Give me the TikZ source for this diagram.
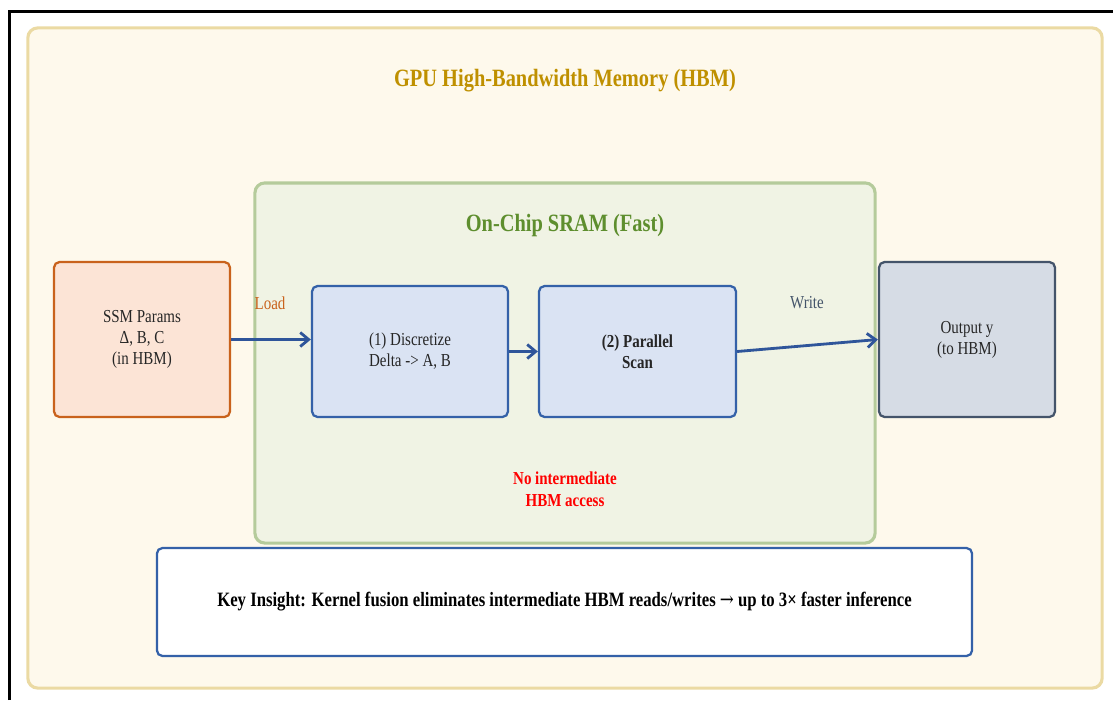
\documentclass[tikz,border=0pt]{standalone}
\usepackage{fontspec}
\setmainfont{Liberation Serif}[FakeStretch=0.82]
\usepackage{xcolor}
\usetikzlibrary{positioning, arrows.meta, calc}

\definecolor{hbmfill}{HTML}{FEF9EC}
\definecolor{hbmline}{HTML}{EBDAA3}
\definecolor{hbmtext}{HTML}{BF9000}
\definecolor{sramfill}{HTML}{F0F3E4}
\definecolor{sramline}{HTML}{B5CB9B}
\definecolor{sramtext}{HTML}{5E8E2E}
\definecolor{paramfill}{HTML}{FCE4D6}
\definecolor{paramline}{HTML}{C9621C}
\definecolor{procfill}{HTML}{DAE3F3}
\definecolor{procline}{HTML}{3461A8}
\definecolor{outfill}{HTML}{D6DCE5}
\definecolor{outline}{HTML}{44546A}
\definecolor{flowblue}{HTML}{2F559A}

\tikzset{
  every picture/.append style={thick},
  region/.style={draw, rounded corners=7pt, line width=2.2pt},
  unit/.style={draw, rounded corners=4pt, line width=1.6pt, align=center,
    font=\fontsize{13}{15}\selectfont, text=black!85},
  flow/.style={-{Straight Barb[length=6pt,width=10pt]}, line width=2pt, flowblue},
}

\begin{document}
\begin{tikzpicture}[x=0.025cm, y=-0.025cm]
    \useasboundingbox (0,0) rectangle (1113,700);

    % Frame
    \draw[black, line width=1.5pt] (9.5,700) -- (9.5,11.5) -- (1113,11.5);

    % Memory regions
    \node[region, fill=hbmfill, draw=hbmline, minimum width=26.85cm, minimum height=16.5cm] (hbm) at (565,358) {};
    \node[font=\fontsize{17.7}{21}\selectfont\bfseries, text=hbmtext] (hbmtitle) at (565,81) {GPU High-Bandwidth Memory (HBM)};
    \node[region, fill=sramfill, draw=sramline, minimum width=15.5cm, minimum height=9cm] (sram) at (565,363) {};
    \node[font=\fontsize{17.7}{21}\selectfont\bfseries, text=sramtext] (sramtitle) at (565,226) {On-Chip SRAM (Fast)};

    % Blocks
    \node[unit, fill=paramfill, draw=paramline, minimum width=4.4cm, minimum height=3.875cm] (params) at (142,339.5) {SSM Params\\Δ, B, C\\(in HBM)};
    \node[unit, fill=procfill, draw=procline, minimum width=4.9cm, minimum height=3.275cm] (disc) at (410,351.5) {(1) Discretize\\Delta -> A, B};
    \node[unit, fill=procfill, draw=procline, minimum width=4.925cm, minimum height=3.275cm, font=\fontsize{13}{15}\selectfont\bfseries] (scan) at (637.5,351.5) {(2) Parallel\\Scan};
    \node[unit, fill=outfill, draw=outline, minimum width=4.4cm, minimum height=3.875cm] (output) at (967,339.5) {Output y\\(to HBM)};

    % Data movement
    \draw[flow] (params.east) -- (disc.west |- params.east);
    \draw[flow] (disc.east) -- (scan.west);
    \draw[flow] (scan.east) -- (output.west);
    \node[font=\fontsize{13}{15}\selectfont, text=paramline] (load) at (270,303) {Load};
    \node[font=\fontsize{13}{15}\selectfont, text=outline] (write) at (807,303) {Write};

    % Notes
    \node[align=center, font=\fontsize{13}{16}\selectfont\bfseries, text=red] (note) at (565,489) {No intermediate\\HBM access};
    \node[draw=procline, fill=white, rounded corners=4pt, line width=1.6pt, minimum width=20.375cm, minimum height=2.7cm,
      font=\fontsize{14.5}{18}\selectfont\bfseries] (insight) at (564.5,602)
      {Key Insight: Kernel fusion eliminates intermediate HBM reads/writes {\fontspec{DejaVu Serif}[FakeStretch=0.82]\mdseries→} up to 3× faster inference};
\end{tikzpicture}
\end{document}
